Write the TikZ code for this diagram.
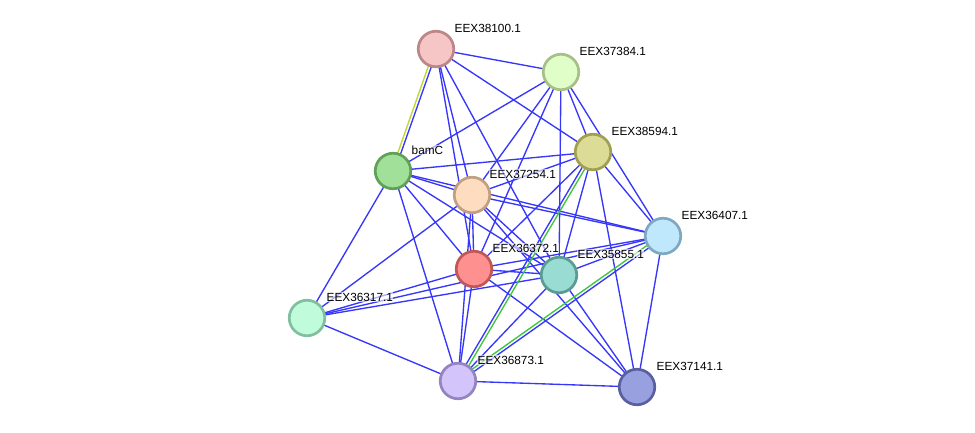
\documentclass[tikz,border=0pt]{standalone}
\usepackage{fontspec}
\setmainfont{Liberation Sans}
\usetikzlibrary{calc}
\pgfdeclarelayer{bg}
\pgfsetlayers{bg,main}
\definecolor{eblue}{RGB}{55,55,250}
\definecolor{egreen}{RGB}{60,200,60}
\definecolor{eyellow}{RGB}{190,215,50}
\begin{document}
\begin{tikzpicture}[x=1pt,y=-1pt,
  prot/.style={circle,minimum size=35.5pt,inner sep=0pt,line width=2.7pt},
  lab/.style={anchor=west,font=\fontsize{11.8}{14}\selectfont,inner sep=0.5pt,fill=white,fill opacity=0.6,text opacity=1},
  edge/.style={eblue,line width=1.35pt}]
\useasboundingbox (0,0) rectangle (975,433);
\node[prot,fill={rgb,255:red,246;green,198;blue,198},draw={rgb,255:red,190;green,135;blue,135}] (A) at (436,49) {};
\node[prot,fill={rgb,255:red,224;green,255;blue,200},draw={rgb,255:red,168;green,192;blue,136}] (B) at (561,72) {};
\node[prot,fill={rgb,255:red,220;green,220;blue,150},draw={rgb,255:red,160;green,160;blue,82}] (C) at (593,152) {};
\node[prot,fill={rgb,255:red,160;green,224;blue,152},draw={rgb,255:red,96;green,160;blue,88}] (D) at (393,171) {};
\node[prot,fill={rgb,255:red,253;green,220;blue,192},draw={rgb,255:red,192;green,160;blue,128}] (E) at (472,195) {};
\node[prot,fill={rgb,255:red,192;green,232;blue,252},draw={rgb,255:red,128;green,168;blue,192}] (F) at (663,236) {};
\node[prot,fill={rgb,255:red,255;green,144;blue,144},draw={rgb,255:red,192;green,88;blue,88}] (G) at (474,269) {};
\node[prot,fill={rgb,255:red,152;green,220;blue,212},draw={rgb,255:red,90;green,156;blue,148}] (H) at (559,275) {};
\node[prot,fill={rgb,255:red,192;green,252;blue,220},draw={rgb,255:red,128;green,192;blue,160}] (I) at (307,318) {};
\node[prot,fill={rgb,255:red,212;green,196;blue,252},draw={rgb,255:red,148;green,132;blue,192}] (J) at (458,381) {};
\node[prot,fill={rgb,255:red,152;green,160;blue,224},draw={rgb,255:red,88;green,96;blue,160}] (K) at (637,387) {};
\node[lab] (lA) at ($(A)+(18,-21)$) {EEX38100.1};
\node[lab] (lB) at ($(B)+(18,-21)$) {EEX37384.1};
\node[lab] (lC) at ($(C)+(18,-21)$) {EEX38594.1};
\node[lab] (lD) at ($(D)+(18,-21)$) {bamC};
\node[lab] (lE) at ($(E)+(17,-21)$) {EEX37254.1};
\node[lab] (lF) at ($(F)+(18,-21)$) {EEX36407.1};
\node[lab] (lG) at ($(G)+(18,-21)$) {EEX36372.1};
\node[lab] (lH) at ($(H)+(18,-21)$) {EEX35855.1};
\node[lab] (lI) at ($(I)+(19,-21)$) {EEX36317.1};
\node[lab] (lJ) at ($(J)+(19,-21)$) {EEX36873.1};
\node[lab] (lK) at ($(K)+(19,-21)$) {EEX37141.1};
\begin{pgfonlayer}{bg}
\foreach \a/\b in {A/B,A/C,A/E,A/G,A/H,B/C,B/D,B/E,B/G,B/H,B/F,C/D,C/E,C/G,C/H,C/K,C/F,D/E,D/F,D/G,D/H,D/I,D/J,E/F,E/G,E/H,E/K,E/I,E/J,F/G,F/H,F/K,F/I,G/H,G/I,G/J,G/K,H/I,H/J,H/K,I/J,J/K}
  \draw[edge] (\a.center) -- (\b.center);
\draw[edge,eyellow] ($(A.center)!1.5pt!-90:(D.center)$) -- ($(D.center)!1.5pt!90:(A.center)$);
\draw[edge] ($(A.center)!1.5pt!90:(D.center)$) -- ($(D.center)!1.5pt!-90:(A.center)$);
\draw[edge,egreen] ($(C.center)!1.5pt!90:(J.center)$) -- ($(J.center)!1.5pt!-90:(C.center)$);
\draw[edge] ($(C.center)!1.5pt!-90:(J.center)$) -- ($(J.center)!1.5pt!90:(C.center)$);
\draw[edge,egreen] ($(F.center)!1.5pt!-90:(J.center)$) -- ($(J.center)!1.5pt!90:(F.center)$);
\draw[edge] ($(F.center)!1.5pt!90:(J.center)$) -- ($(J.center)!1.5pt!-90:(F.center)$);
\end{pgfonlayer}
\end{tikzpicture}
\end{document}
